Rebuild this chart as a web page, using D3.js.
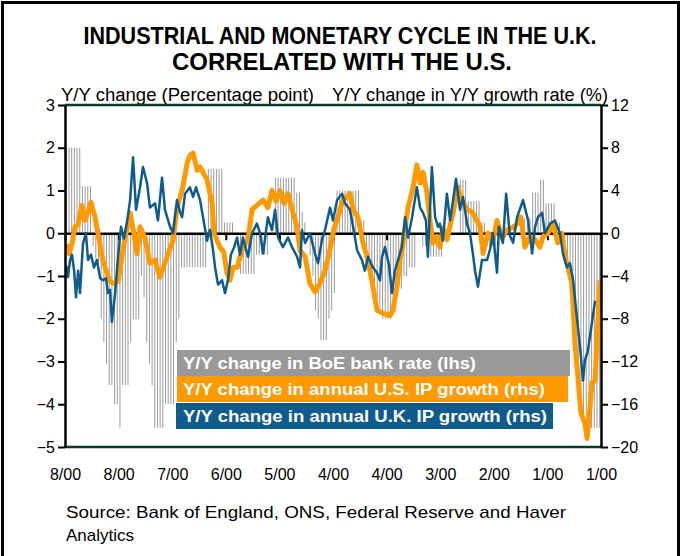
<!DOCTYPE html>
<html>
<head>
<meta charset="utf-8">
<script src="https://cdn.jsdelivr.net/npm/d3@7"></script>
<style>
  body { margin: 0; background: #fff; }
  svg { font-family: "Liberation Sans", Arial, sans-serif; }
</style>
</head>
<body>
<svg id="chart" width="681" height="556"></svg>
<script>
// tick labels as printed on the original
const xLabels = ['8/00','8/00','7/00','6/00','5/00','4/00','4/00','3/00','2/00','1/00','1/00'];
const lhsTicks = [3, 2, 1, 0, -1, -2, -3, -4, -5];
const rhsTicks = [12, 8, 4, 0, -4, -8, -12, -16, -20];

// Y/Y change in BoE bank rate (lhs), one bar per period, 200 periods
const boeRate = [
  2.0, 2.0, 2.0, 2.0, 2.0, 2.0, 1.1, 1.1, 1.1, 1.1,
  -0.3, -0.6, -0.8, -2.0, -2.55, -3.05, -3.55, -3.55, -4.0, -4.0,
  -4.55, -3.55, -3.55, -3.55, -2.55, -2.0, -2.0, -2.0, -1.0, -1.5,
  -2.55, -3.05, -3.55, -4.55, -4.55, -4.55, -4.55, -4.0, -4.0, -4.0,
  -4.0, -2.55, -2.0, -0.8, -0.8, -0.8, -0.8, -0.8, -0.8, -0.8,
  -0.8, -0.8, -0.8, 1.5, 1.5, 1.5, 1.5, 1.5, 1.5, 0.25,
  0.25, 0.25, 0.25, 0, 0, -0.95, -0.95, -0.95, -0.95, -0.95,
  -0.95, -0.5, -0.5, -0.5, -0.5, -0.5, 0, 0, 1.3, 1.3,
  1.3, 1.3, 1.3, 1.3, 1.3, 1.3, 0.95, 0.95, 0.5, 0.25,
  0, -0.5, -1.0, -1.8, -2.0, -2.5, -2.5, -2.5, -2.0, -1.8,
  -1.4, 1.0, 1.0, 1.0, 1.0, 1.0, 1.0, 1.0, 1.0, 1.0,
  0.3, 0.3, -0.5, -0.9, -1.3, -1.3, -1.5, -1.8, -2.0, -2.0,
  -2.0, -2.0, -1.8, -1.55, -1.3, -1.3, -1.0, -1.0, -0.8, -0.8,
  -0.8, 0, 0, -0.3, -0.3, -0.55, -0.55, -0.55, -0.55, -0.55,
  -0.55, 0, 0, 0, 0, 0, 0, 1.25, 1.25, 1.25,
  0.75, 0.75, 0.75, 0.75, 0.75, 0.25, 0.25, -0.3, -0.3, -0.3,
  -0.3, 0, 0, 0, 0, 0, 0, 0, 0, 0,
  0, 0.35, 0.35, 0.35, 0.95, 0.95, 0.95, 1.25, 1.25, 0.7,
  0.7, 0.7, 0.7, 0.25, 0.25, 0, -0.5, -0.8, -1.4, -2.0,
  -2.6, -3.4, -4.0, -4.55, -4.55, -4.55, -4.55, -4.55, -4.55, -4.55
];

// Y/Y change in annual U.S. IP growth (rhs): [period, value]
const usIP = [
  [0.8,-1.0],[1.5,-1.9],[2.6,-1.0],[3.7,0.6],[4.9,0.8],[6.3,2.6],[7.5,1.2],[9.7,2.9],
  [11.2,1.5],[12.3,0],[13.8,-2.2],[15.3,-3.5],[16.8,-4.5],[18.3,-4.7],[19.8,-4.5],[20.5,-3.5],
  [21.3,-2.0],[22.8,0],[24.3,1.9],[25.7,0],[26.9,-1.9],[28.0,0.6],[29.9,-0.5],[31.7,-2.8],
  [33.6,-2.5],[35.4,-4.1],[38.1,-2.2],[40.3,-0.7],[41.8,2.4],[44.0,4.3],[45.5,6.5],[46.6,7.3],
  [47.8,7.5],[49.3,5.9],[50.4,6.2],[53.0,5.0],[54.9,2.8],[55.6,0],[57.8,-1.3],[59.3,-1.8],
  [60.4,-3.7],[61.6,-4.4],[62.7,-3.2],[64.2,-3.2],[66.4,-1.3],[68.3,-0.6],[69.8,2.2],[71.6,2.6],
  [73.9,3.1],[75.7,2.4],[77.2,4.0],[78.7,3.0],[80.2,4.0],[81.7,2.8],[83.2,3.7],[85.1,1.9],
  [86.6,0.6],[87.7,-1.6],[89.6,-2.2],[91.4,-4.7],[93.3,-5.5],[95.1,-4.7],[97.0,-3.5],[98.9,-1.5],
  [100.4,0.5],[101.5,1.2],[103.7,3.1],[106.3,3.7],[107.5,2.2],[109.3,1.5],[111.2,-0.9],[112.7,-2.2],
  [113.8,-3.5],[114.9,-5.0],[116.4,-7.2],[118.7,-7.5],[121.3,-7.7],[122.4,-7.2],[123.9,-5.0],[125.0,-2.5],
  [126.1,-1.0],[126.9,0.6],[128.0,2.4],[129.9,4.3],[131.3,6.4],[132.5,4.7],[133.6,5.7],[135.1,3.7],
  [136.2,1.2],[137.3,-0.9],[138.8,-0.3],[139.9,-1.3],[141.0,0.5],[142.5,-0.6],[144.8,1.9],[146.6,4.3],
  [148.1,3.1],[150.0,2.2],[151.9,2.0],[153.7,1.2],[154.9,0.6],[156.0,-1.9],[157.8,0],[159.7,-0.7],
  [161.2,1.2],[163.1,-0.5],[164.9,0.3],[166.8,0.5],[168.7,0.9],[170.1,1.5],[171.6,-1.3],[173.5,-0.3],
  [175.4,-0.6],[177.2,-1.3],[178.4,-0.3],[180.2,0],[182.1,0.9],[183.9,-0.9],[185.4,0],[186.6,-2.2],
  [187.7,-3.2],[189.2,-4.8],[190.3,-10.3],[191.4,-13.5],[192.5,-16.8],[194.0,-17.8],[194.8,-19.2],[195.9,-16.3],
  [196.6,-14.0],[197.8,-13.8],[198.9,-7.9],[199.6,-4.4]
];

// Y/Y change in annual U.K. IP growth (rhs): [period, value]
const ukIP = [
  [0.4,-3.0],[1.1,-4.1],[1.9,-2.5],[2.6,-2.0],[3.4,-3.5],[4.1,-6.0],[4.9,-3.5],[5.6,-5.6],
  [6.7,-1.0],[7.8,0],[8.6,-2.5],[9.7,-2.0],[10.8,-3.2],[11.9,-2.5],[13.1,-4.2],[14.2,-4.4],
  [15.3,-4.2],[16.0,-5.6],[16.8,-5.3],[17.5,-8.3],[18.7,-5.6],[19.8,-2.2],[20.9,0.6],[22.0,-0.5],
  [23.1,1.0],[24.3,3.1],[25.4,7.1],[26.5,2.2],[28.0,4.3],[29.1,6.2],[30.6,4.7],[31.7,2.4],
  [33.6,2.8],[34.7,1.2],[36.2,5.2],[37.3,2.2],[39.2,0.6],[40.3,0],[41.8,3.1],[42.9,2.0],
  [43.7,1.5],[44.8,3.7],[46.6,4.3],[47.8,3.4],[48.9,4.3],[50.4,3.1],[51.5,1.5],[53.0,-0.7],
  [54.1,0.3],[55.2,-1.5],[56.0,-3.2],[57.1,-4.8],[58.6,-4.4],[59.7,-5.6],[60.8,-4.4],[61.9,-2.0],
  [63.1,-1.3],[64.2,-0.4],[65.3,-2.0],[66.4,-0.4],[68.3,-2.2],[69.8,0],[71.6,0.9],[72.8,0],
  [73.9,-1.9],[75.7,1.5],[77.2,0.3],[78.4,2.2],[79.5,-0.4],[81.3,-1.3],[83.2,-0.4],[84.7,-1.3],
  [86.6,-2.2],[87.7,-3.2],[88.4,0.3],[89.6,-0.9],[91.4,0],[93.3,-1.9],[94.4,-2.8],[95.9,-0.6],
  [97.0,0.3],[98.9,2.4],[100.0,1.2],[101.5,3.1],[103.4,3.7],[104.5,2.8],[106.3,2.2],[107.5,0.6],
  [109.0,-1.6],[110.8,-2.5],[111.9,-3.5],[113.1,-2.2],[114.9,-3.2],[116.4,-3.7],[117.5,-4.4],[118.3,-2.2],
  [119.4,-1.3],[120.9,-3.0],[122.0,-5.6],[123.1,-3.5],[124.3,-2.5],[125.7,-1.3],[126.9,1.5],[128.0,-0.4],
  [129.5,1.5],[131.3,4.3],[132.5,2.4],[133.6,1.9],[134.7,1.2],[135.4,-2.2],[136.9,6.2],[138.1,1.5],
  [139.2,0.6],[139.9,0.9],[141.0,-0.7],[142.5,3.7],[143.7,1.2],[144.8,3.1],[145.9,5.1],[147.4,2.2],
  [148.5,3.4],[150.0,0.9],[151.1,0],[152.2,-1.9],[153.0,-3.5],[154.1,-5.0],[155.6,-2.5],[157.5,-2.5],
  [158.6,-1.5],[159.7,0],[161.2,-3.7],[161.9,0.6],[163.4,-0.9],[164.6,3.7],[166.0,-0.2],[167.2,-0.9],
  [168.7,1.5],[170.9,3.1],[172.8,1.2],[174.3,-1.9],[175.4,0.6],[176.5,1.5],[178.0,1.9],[179.1,0],
  [181.0,0.9],[182.8,1.2],[184.7,0],[185.8,-1.9],[187.3,-3.2],[188.4,-2.8],[189.6,-4.4],[191.0,-7.9],
  [192.2,-10.7],[193.3,-13.8],[194.0,-11.9],[195.1,-11.0],[196.6,-8.4],[197.8,-6.3]
];

const legendLabels = [
  'Y/Y change in BoE bank rate (lhs)',
  'Y/Y change in annual U.S. IP growth (rhs)',
  'Y/Y change in annual U.K. IP growth (rhs)'
];

const svg = d3.select('#chart');
const margin = { top: 105, bottom: 109, left: 65, right: 80 };
const width = 681, height = 556;
const plotBottom = height - margin.bottom;
const plotRight = width - margin.right;

const gray = '#999999', orange = '#ff9900', blue = '#0f5b8c', green = '#0b3a2c';

const x = d3.scaleLinear().domain([0, 200]).range([margin.left, plotRight]);
const yL = d3.scaleLinear().domain([-5, 3]).range([plotBottom, margin.top]);
const yR = d3.scaleLinear().domain([-20, 12]).range([plotBottom, margin.top]);

// frame
svg.append('rect')
  .attr('x', 2.5).attr('y', 2.5).attr('width', 676).attr('height', 600)
  .attr('fill', 'none').attr('stroke', '#000').attr('stroke-width', 3);

// title
svg.append('text')
  .attr('x', 340).attr('y', 44).attr('text-anchor', 'middle')
  .style('font-size', '23px').style('font-weight', 'bold')
  .attr('textLength', 513).attr('lengthAdjust', 'spacingAndGlyphs')
  .text('INDUSTRIAL AND MONETARY CYCLE IN THE U.K.');
svg.append('text')
  .attr('x', 342).attr('y', 70).attr('text-anchor', 'middle')
  .style('font-size', '23px').style('font-weight', 'bold')
  .attr('textLength', 340).attr('lengthAdjust', 'spacingAndGlyphs')
  .text('CORRELATED WITH THE U.S.');

// axis titles
svg.append('text')
  .attr('x', 61).attr('y', 101)
  .style('font-size', '18px')
  .attr('textLength', 253).attr('lengthAdjust', 'spacingAndGlyphs')
  .text('Y/Y change (Percentage point)');
svg.append('text')
  .attr('x', 332).attr('y', 101)
  .style('font-size', '18px')
  .attr('textLength', 276).attr('lengthAdjust', 'spacingAndGlyphs')
  .text('Y/Y change in Y/Y growth rate (%)');

// bars
svg.append('g').selectAll('line')
  .data(boeRate)
  .enter()
  .append('line')
  .attr('x1', (d, i) => x(i + 0.5))
  .attr('x2', (d, i) => x(i + 0.5))
  .attr('y1', yL(0))
  .attr('y2', d => yL(d))
  .attr('stroke', gray)
  .attr('stroke-width', 1);

// zero line with ticks
const zeroAxis = d3.axisBottom(x).tickValues(d3.range(0, 201, 20)).tickSize(7).tickSizeOuter(0).tickFormat('');
svg.append('g')
  .attr('transform', `translate(0,${yL(0)})`)
  .call(zeroAxis)
  .call(g => g.select('.domain').attr('stroke', '#000').attr('stroke-width', 2.5))
  .call(g => g.selectAll('.tick line').attr('stroke', '#000').attr('stroke-width', 2));

// top and bottom frame lines of plot
svg.append('line')
  .attr('x1', margin.left).attr('x2', plotRight)
  .attr('y1', margin.top).attr('y2', margin.top)
  .attr('stroke', green).attr('stroke-width', 2.5);
svg.append('line')
  .attr('x1', margin.left).attr('x2', plotRight)
  .attr('y1', plotBottom).attr('y2', plotBottom)
  .attr('stroke', green).attr('stroke-width', 2.5);

// lines
const line = d3.line().x(d => x(d[0])).y(d => yR(d[1]));
svg.append('path')
  .datum(usIP)
  .attr('d', line)
  .attr('fill', 'none')
  .attr('stroke', orange)
  .attr('stroke-width', 5)
  .attr('stroke-linejoin', 'round');
svg.append('path')
  .datum(ukIP)
  .attr('d', line)
  .attr('fill', 'none')
  .attr('stroke', blue)
  .attr('stroke-width', 2.5)
  .attr('stroke-linejoin', 'round');

// left axis
svg.append('g')
  .attr('transform', `translate(${margin.left},0)`)
  .call(d3.axisLeft(yL).tickValues(lhsTicks).tickSize(7).tickSizeOuter(0).tickPadding(3))
  .call(g => g.select('.domain').attr('stroke', '#000').attr('stroke-width', 2.5))
  .call(g => g.selectAll('.tick line').attr('stroke', '#000').attr('stroke-width', 2))
  .call(g => g.selectAll('.tick text').style('font-size', '16px').attr('fill', '#000')
    .style('font-family', '"Liberation Sans", Arial, sans-serif'));

// right axis
svg.append('g')
  .attr('transform', `translate(${plotRight},0)`)
  .call(d3.axisRight(yR).tickValues(rhsTicks).tickSize(7).tickSizeOuter(0).tickPadding(3))
  .call(g => g.select('.domain').attr('stroke', '#000').attr('stroke-width', 2.5))
  .call(g => g.selectAll('.tick line').attr('stroke', '#000').attr('stroke-width', 2))
  .call(g => g.selectAll('.tick text').style('font-size', '16px').attr('fill', '#000')
    .style('font-family', '"Liberation Sans", Arial, sans-serif'));

// bottom labels
svg.append('g')
  .attr('transform', `translate(0,${plotBottom})`)
  .call(d3.axisBottom(x).tickValues(d3.range(0, 201, 20)).tickSize(0).tickPadding(22)
    .tickFormat((d, i) => xLabels[i]))
  .call(g => g.select('.domain').remove())
  .call(g => g.selectAll('.tick text').style('font-size', '16px').attr('fill', '#000')
    .style('font-family', '"Liberation Sans", Arial, sans-serif'));

// legend
const legendColors = [gray, orange, blue];
const legendBoxes = [[177, 350, 393], [177, 376, 391], [176, 403, 377]];
const legendText = [293, 362, 364];
const lg = svg.append('g');
legendLabels.forEach((label, i) => {
  lg.append('rect')
    .attr('x', legendBoxes[i][0]).attr('y', legendBoxes[i][1])
    .attr('width', legendBoxes[i][2]).attr('height', 26)
    .attr('fill', legendColors[i]);
  lg.append('text')
    .attr('x', 183).attr('y', legendBoxes[i][1] + 19)
    .attr('fill', '#fff')
    .style('font-size', '16px').style('font-weight', 'bold')
    .attr('textLength', legendText[i]).attr('lengthAdjust', 'spacingAndGlyphs')
    .text(label);
});

// source
svg.append('text')
  .attr('x', 66).attr('y', 518)
  .style('font-size', '17px')
  .attr('textLength', 500).attr('lengthAdjust', 'spacingAndGlyphs')
  .text('Source: Bank of England, ONS, Federal Reserve and Haver');
svg.append('text')
  .attr('x', 66).attr('y', 541)
  .style('font-size', '17px')
  .text('Analytics');
</script>
</body>
</html>
